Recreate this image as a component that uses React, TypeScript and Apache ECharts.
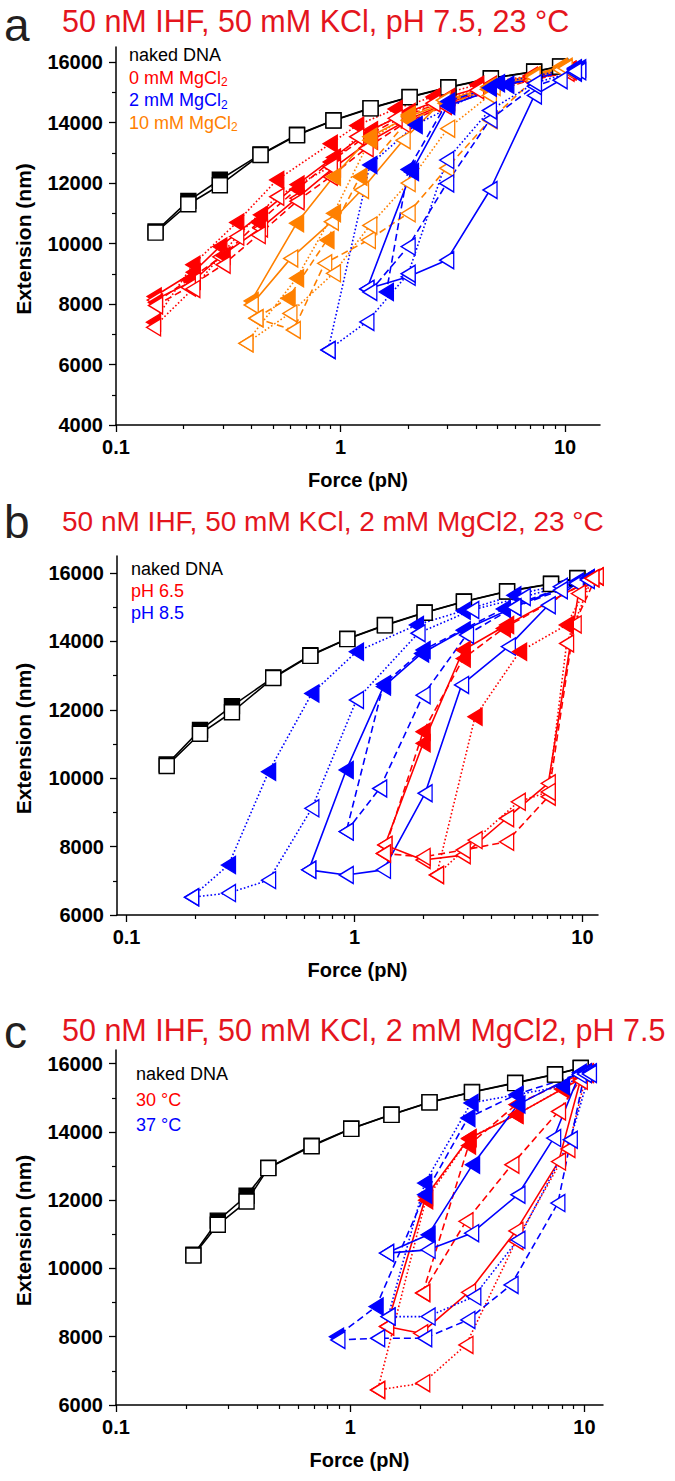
import React, { useEffect, useRef } from "react";
import * as echarts from "echarts";

// ---------- tick values ----------
const xMajorTicks = [0.1, 1, 10];
const xMinorTicks = [0.2, 0.3, 0.4, 0.5, 0.6, 0.7, 0.8, 0.9, 2, 3, 4, 5, 6, 7, 8, 9];
const yMajorA = [4000, 6000, 8000, 10000, 12000, 14000, 16000];
const yMinorA = [5000, 7000, 9000, 11000, 13000, 15000];
const yMajorBC = [6000, 8000, 10000, 12000, 14000, 16000];
const yMinorBC = [7000, 9000, 11000, 13000, 15000];

// ---------- titles / legends ----------
const panelLetters = ["a", "b", "c"];
const panelTitles = [
  "50 nM IHF, 50 mM KCl, pH 7.5, 23 °C",
  "50 nM IHF, 50 mM KCl, 2 mM MgCl2, 23 °C",
  "50 nM IHF, 50 mM KCl, 2 mM MgCl2, pH 7.5",
];
const legendB = ["naked DNA", "pH 6.5", "pH 8.5"];
const legendC = ["naked DNA", "30 °C", "37 °C"];

// ---------- naked DNA (panels a, b) ----------
const nakedForceAB = [0.15, 0.21, 0.29, 0.44, 0.64, 0.93, 1.36, 2.03, 3.02, 4.67, 7.28, 9.5];
const nakedStretchAB = [10400, 11410, 12110, 12950, 13600, 14080, 14480, 14850, 15170, 15470, 15690, 15860];
const nakedReleaseAB = [10360, 11300, 11930, 12930, 13580, 14070, 14470, 14840, 15160, 15460, 15680, 15850];
// ---------- naked DNA (panel c) ----------
const nakedForceC = [0.214, 0.272, 0.361, 0.447, 0.684, 1.01, 1.5, 2.18, 3.31, 5.06, 7.49, 9.64];
const nakedStretchC = [10400, 11400, 12130, 12950, 13600, 14100, 14510, 14870, 15170, 15440, 15690, 15880];
const nakedReleaseC = [10380, 11280, 11960, 12940, 13580, 14090, 14500, 14865, 15160, 15430, 15680, 15870];

// ---------- panel a : 0 mM MgCl2 (red) ----------
const aRedSolidUp = [[0.148, 8130], [0.221, 8770], [0.29, 9560], [0.44, 10500], [0.64, 11500], [0.93, 12500], [1.36, 13400], [2.0, 14100], [3.0, 14650], [4.6, 15100], [7.2, 15450], [10.4, 15700]];
const aRedSolidDown = [[10.4, 15750], [7.2, 15550], [4.6, 15250], [3.0, 14850], [2.0, 14350], [1.36, 13750], [0.93, 12850], [0.64, 11950], [0.44, 10950], [0.29, 9900], [0.221, 9050], [0.148, 8250]];
const aRedDashUp = [[0.15, 7950], [0.21, 8550], [0.3, 9300], [0.43, 10280], [0.64, 11400], [0.9, 12210], [1.3, 13150], [1.9, 13950], [2.9, 14550], [4.5, 15000], [7.0, 15400], [10.2, 15650]];
const aRedDashDown = [[10.2, 15700], [7.0, 15500], [4.5, 15150], [2.9, 14700], [1.9, 14200], [1.3, 13550], [0.9, 12700], [0.64, 11800], [0.43, 10700], [0.3, 9600], [0.21, 8800], [0.15, 8050]];
const aRedDotUp = [[0.147, 7230], [0.22, 8500], [0.345, 10230], [0.52, 11550], [0.9, 12540], [1.18, 13530], [1.75, 14140], [2.58, 14640], [4.04, 15070], [7.0, 15400], [10.4, 15700]];
const aRedDotDown = [[10.4, 15750], [7.0, 15550], [4.04, 15250], [2.58, 14850], [1.75, 14450], [1.18, 13900], [0.9, 13300], [0.52, 12100], [0.345, 10700], [0.22, 9300], [0.147, 7400]];
// ---------- panel a : 10 mM MgCl2 (orange) ----------
const aOrSolidUp = [[0.4, 7970], [0.6, 9510], [0.91, 10720], [1.24, 11770], [1.9, 13420], [2.87, 14740], [4.78, 15180], [7.2, 15520], [9.5, 15790]];
const aOrSolidDown = [[9.5, 15850], [7.2, 15570], [4.52, 15180], [2.92, 14640], [2.0, 14190], [1.35, 13530], [0.93, 12210], [0.637, 10670], [0.4, 8100]];
const aOrDashUp = [[0.42, 7530], [0.616, 7140], [0.85, 9345], [1.33, 10115], [2.0, 11000], [2.97, 12490], [4.63, 14080], [7.2, 15400], [9.5, 15750]];
const aOrDashDown = [[9.5, 15800], [4.5, 15100], [2.0, 14080], [1.22, 12210], [0.87, 10115], [0.584, 8190], [0.42, 7530]];
const aOrDotUp = [[0.379, 6700], [0.595, 7690], [0.93, 9015], [1.35, 10600], [2.0, 12000], [3.0, 13800], [4.6, 14900], [7.2, 15500], [10.0, 15800]];
const aOrDotDown = [[10.0, 15850], [4.6, 15200], [2.0, 14250], [1.35, 13420], [0.93, 11000], [0.637, 8850], [0.379, 6700]];
// ---------- panel a : 2 mM MgCl2 (blue) ----------
const aBlSolidUp = [[1.31, 8500], [2.0, 8900], [2.97, 9450], [4.63, 11770], [7.3, 14900], [9.5, 15400], [11.5, 15700]];
const aBlSolidDown = [[11.5, 15800], [5.5, 15250], [3.0, 14550], [2.07, 12370], [1.31, 8500]];
const aBlDashUp = [[1.35, 8400], [2.0, 9900], [2.97, 11990], [4.63, 14100], [7.3, 15200], [11.0, 15650]];
const aBlDashDown = [[11.0, 15750], [4.6, 15150], [3.0, 14700], [2.0, 12450], [1.6, 8400]];
const aBlDotUp = [[0.88, 6480], [1.31, 7410], [2.0, 9000], [2.97, 12760], [4.6, 14400], [7.3, 15300], [11.0, 15700]];
const aBlDotDown = [[11.0, 15800], [5.0, 15300], [2.15, 13920], [1.35, 12600], [0.88, 6480]];

// ---------- panel b : pH 8.5 (blue) ----------
const bBlDotUp = [[0.193, 6520], [0.28, 6640], [0.42, 7020], [0.65, 9120], [1.02, 12290], [1.9, 14240], [3.27, 14920], [5.5, 15300], [8.0, 15600], [10.5, 15850]];
const bBlDotDown = [[10.5, 15850], [5.0, 15350], [3.0, 14900], [1.87, 14480], [1.02, 13700], [0.65, 12480], [0.42, 10190], [0.28, 7460], [0.193, 6520]];
const bBlSolidUp = [[0.63, 7320], [0.92, 7170], [1.34, 7320], [2.04, 9560], [2.95, 12730], [4.73, 13850], [7.08, 15060], [9.4, 15700]];
const bBlSolidDown = [[9.4, 15750], [5.0, 15000], [3.0, 14330], [1.97, 13650], [1.34, 12680], [0.92, 10240], [0.63, 7320]];
const bBlDashUp = [[0.92, 8440], [1.29, 9700], [2.0, 12430], [3.1, 14190], [5.0, 15000], [8.0, 15500], [10.5, 15800]];
const bBlDashDown = [[10.5, 15850], [4.5, 14950], [2.0, 13750], [1.34, 12750], [0.92, 8440]];
// ---------- panel b : pH 6.5 (red) ----------
const bRedSolidUp = [[1.36, 8050], [2.0, 7610], [3.0, 7750], [4.65, 8830], [7.08, 9850], [9.6, 15400], [11.5, 15900]];
const bRedSolidDown = [[11.5, 15900], [4.65, 14480], [3.0, 13750], [2.0, 11020], [1.36, 8050]];
const bRedDashUp = [[1.34, 7800], [2.0, 7700], [3.0, 7900], [4.65, 8140], [7.08, 9460], [9.2, 14500], [11.5, 15900]];
const bRedDashDown = [[11.5, 15900], [4.5, 14380], [3.0, 13500], [2.0, 11360], [1.34, 7800]];
const bRedDotUp = [[2.29, 7170], [3.38, 8190], [5.23, 9310], [7.08, 9600], [8.52, 13940], [11.0, 15850]];
const bRedDotDown = [[11.0, 15850], [8.5, 14480], [5.3, 13700], [3.38, 11800], [2.29, 7170]];

// ---------- panel c : 30 °C (red) ----------
const cRedSolidUp = [[1.43, 8300], [2.0, 8100], [3.2, 9300], [5.1, 11100], [7.75, 13130], [9.6, 15500]];
const cRedSolidDown = [[9.6, 15550], [5.1, 14500], [3.2, 13800], [2.1, 12100], [1.43, 8300]];
const cRedDashUp = [[2.04, 9280], [3.12, 11380], [4.9, 13040], [7.75, 14600], [10.0, 15700]];
const cRedDashDown = [[10.0, 15750], [5.1, 14800], [3.2, 13600], [2.04, 9280]];
const cRedDotUp = [[1.31, 6440], [2.04, 6640], [3.12, 7760], [5.1, 10800], [8.5, 13500], [10.2, 15700]];
const cRedDotDown = [[10.2, 15750], [8.0, 15250], [5.1, 14500], [3.22, 13820], [2.1, 12000], [1.31, 6440]];
// ---------- panel c : 37 °C (blue) ----------
const cBlSolidUp = [[1.43, 10450], [2.15, 10545], [3.3, 11035], [5.2, 12160], [7.39, 13820], [9.5, 15680]];
const cBlSolidDown = [[9.5, 15730], [5.2, 14800], [3.33, 13040], [2.15, 10985], [1.43, 10450]];
const cBlDashUp = [[0.886, 7906], [1.31, 7956], [2.08, 7956], [3.18, 8493], [4.86, 9519], [7.7, 11915], [10.0, 15700]];
const cBlDashDown = [[10.0, 15750], [5.1, 15091], [3.18, 14408], [2.08, 12158], [1.29, 8883], [0.874, 8003]];
const cBlDotUp = [[1.45, 8590], [2.15, 8590], [3.37, 9176], [5.2, 10839], [8.7, 13771], [10.5, 15700]];
const cBlDotDown = [[10.5, 15750], [8.06, 15335], [3.28, 14848], [2.08, 12501], [1.45, 8590]];

// ---------- styling ----------
const RED = "#ff0000";
const BLUE = "#0000ff";
const ORANGE = "#ff8000";
const TITLE_RED = "#e4151d";
const FONT = "'Liberation Sans', Arial, sans-serif";
const NARROW = "'Liberation Sans Narrow', 'Arial Narrow', 'Liberation Sans', sans-serif";

const DASH: Record<string, any> = { solid: "solid", dash: [7, 4], dot: [1.6, 2.2] };

type Loop = { color: string; dash: string; up: number[][]; down: number[][] };

const loopsA: Loop[] = [
  { color: RED, dash: "solid", up: aRedSolidUp, down: aRedSolidDown },
  { color: RED, dash: "dash", up: aRedDashUp, down: aRedDashDown },
  { color: RED, dash: "dot", up: aRedDotUp, down: aRedDotDown },
  { color: ORANGE, dash: "solid", up: aOrSolidUp, down: aOrSolidDown },
  { color: ORANGE, dash: "dash", up: aOrDashUp, down: aOrDashDown },
  { color: ORANGE, dash: "dot", up: aOrDotUp, down: aOrDotDown },
  { color: BLUE, dash: "solid", up: aBlSolidUp, down: aBlSolidDown },
  { color: BLUE, dash: "dash", up: aBlDashUp, down: aBlDashDown },
  { color: BLUE, dash: "dot", up: aBlDotUp, down: aBlDotDown },
];
const loopsB: Loop[] = [
  { color: BLUE, dash: "dot", up: bBlDotUp, down: bBlDotDown },
  { color: BLUE, dash: "solid", up: bBlSolidUp, down: bBlSolidDown },
  { color: BLUE, dash: "dash", up: bBlDashUp, down: bBlDashDown },
  { color: RED, dash: "solid", up: bRedSolidUp, down: bRedSolidDown },
  { color: RED, dash: "dash", up: bRedDashUp, down: bRedDashDown },
  { color: RED, dash: "dot", up: bRedDotUp, down: bRedDotDown },
];
const loopsC: Loop[] = [
  { color: RED, dash: "solid", up: cRedSolidUp, down: cRedSolidDown },
  { color: RED, dash: "dash", up: cRedDashUp, down: cRedDashDown },
  { color: RED, dash: "dot", up: cRedDotUp, down: cRedDotDown },
  { color: BLUE, dash: "solid", up: cBlSolidUp, down: cBlSolidDown },
  { color: BLUE, dash: "dash", up: cBlDashUp, down: cBlDashDown },
  { color: BLUE, dash: "dot", up: cBlDotUp, down: cBlDotDown },
];

// grid geometry (px) and axis ranges
const grids = [
  { left: 116, top: 47, width: 484, height: 378, xr: [0.1, 14.3], yr: [4000, 16500], yMaj: yMajorA, yMin: yMinorA },
  { left: 117, top: 556, width: 481, height: 359, xr: [0.0908, 11.7], yr: [6000, 16500], yMaj: yMajorBC, yMin: yMinorBC },
  { left: 116, top: 1050, width: 487, height: 355, xr: [0.1, 12], yr: [6000, 16400], yMaj: yMajorBC, yMin: yMinorBC },
];

function lineSeries(gi: number, data: number[][], color: string, dash: string, filled: boolean, tri: boolean) {
  return {
    type: "line",
    xAxisIndex: gi * 2,
    yAxisIndex: gi * 2,
    data,
    symbol: tri ? "triangle" : "rect",
    symbolRotate: tri ? 90 : 0,
    symbolSize: tri ? [17, 14] : 15,
    showSymbol: true,
    showAllSymbol: true,
    animation: false,
    silent: true,
    lineStyle: { color, width: 1.6, type: DASH[dash] },
    itemStyle: { color: filled ? color : "#ffffff", borderColor: color, borderWidth: 1.4 },
    emphasis: { disabled: true },
  };
}

function nakedSeries(gi: number, f: number[], stretch: number[], release: number[]) {
  const s = f.map((v, i) => [v, stretch[i]]);
  const r = f.map((v, i) => [v, release[i]]);
  return [lineSeries(gi, s, "#000000", "solid", true, false), lineSeries(gi, r, "#000000", "solid", false, false)];
}

function App() {
  const ref = useRef<HTMLDivElement>(null);
  useEffect(() => {
    if (!ref.current) return;
    const chart = echarts.init(ref.current, null, { renderer: "svg" });

    const xAxis: any[] = [];
    const yAxis: any[] = [];
    const gridOpt: any[] = [];
    grids.forEach((g, i) => {
      gridOpt.push({ left: g.left, top: g.top, width: g.width, height: g.height, containLabel: false });
      const common = { type: "log", logBase: 10, gridIndex: i, min: g.xr[0], max: g.xr[1], position: "bottom", splitLine: { show: false } };
      xAxis.push({
        ...common,
        axisLine: { show: true, onZero: false, lineStyle: { color: "#000", width: 1.5 } },
        axisTick: { show: true, inside: false, length: 7, lineStyle: { color: "#000", width: 1.3 }, customValues: xMajorTicks },
        axisLabel: { show: true, customValues: xMajorTicks, margin: 12, fontSize: 20, fontWeight: "bold", fontFamily: FONT, color: "#000", formatter: (v: number) => String(v) },
      });
      xAxis.push({
        ...common,
        axisLine: { show: false },
        axisLabel: { show: false },
        axisTick: { show: true, inside: false, length: 4, lineStyle: { color: "#000", width: 1.2 }, customValues: xMinorTicks },
      });
      const ycommon = { type: "value", gridIndex: i, min: g.yr[0], max: g.yr[1], interval: 1000, position: "left", splitLine: { show: false } };
      yAxis.push({
        ...ycommon,
        axisLine: { show: true, onZero: false, lineStyle: { color: "#000", width: 1.5 } },
        axisTick: { show: true, inside: false, length: 7, lineStyle: { color: "#000", width: 1.3 }, customValues: g.yMaj },
        axisLabel: { show: true, customValues: g.yMaj, margin: 13, fontSize: 20, fontWeight: "bold", fontFamily: FONT, color: "#000", formatter: (v: number) => String(v) },
      });
      yAxis.push({
        ...ycommon,
        axisLine: { show: false },
        axisLabel: { show: false },
        axisTick: { show: true, inside: false, length: 4, lineStyle: { color: "#000", width: 1.2 }, customValues: g.yMin },
      });
    });

    const series: any[] = [];
    series.push(...nakedSeries(0, nakedForceAB, nakedStretchAB, nakedReleaseAB));
    [loopsA, loopsB, loopsC].forEach((loops, gi) => {
      if (gi === 1) series.push(...nakedSeries(1, nakedForceAB, nakedStretchAB, nakedReleaseAB));
      if (gi === 2) series.push(...nakedSeries(2, nakedForceC, nakedStretchC, nakedReleaseC));
      loops.forEach((l) => {
        series.push(lineSeries(gi, l.down, l.color, l.dash, true, true));
        series.push(lineSeries(gi, l.up, l.color, l.dash, false, true));
      });
    });

    const graphic: any[] = [];
    const titleY = [21, 521, 1030];
    const titleSize = [30.5, 28, 30.5];
    const letterY = [25, 522, 1032];
    panelLetters.forEach((t, i) => {
      graphic.push({ type: "text", x: 4, y: letterY[i], style: { text: t, font: `46px ${FONT}`, fill: "#231f20", align: "left", verticalAlign: "middle" } });
      graphic.push({ type: "text", x: 62, y: titleY[i], style: { text: panelTitles[i], font: `${titleSize[i]}px ${NARROW}`, fill: TITLE_RED, align: "left", verticalAlign: "middle" } });
    });
    // axis names
    grids.forEach((g) => {
      graphic.push({ type: "text", x: 23, y: g.top + g.height / 2 + 3, rotation: Math.PI / 2, style: { text: "Extension (nm)", font: `bold 21px ${FONT}`, fill: "#000", align: "center", verticalAlign: "middle" } });
      graphic.push({ type: "text", x: g.left + g.width / 2, y: g.top + g.height + 55, style: { text: "Force (pN)", font: `bold 20px ${FONT}`, fill: "#000", align: "center", verticalAlign: "middle" } });
    });
    // legend a
    const legA = [
      { t: "naked DNA", sub: "", c: "#000" },
      { t: "0 mM MgCl", sub: "2", c: RED },
      { t: "2 mM MgCl", sub: "2", c: BLUE },
      { t: "10 mM MgCl", sub: "2", c: ORANGE },
    ];
    legA.forEach((l, i) => {
      graphic.push({
        type: "text", x: 129, y: 55 + i * 22.5,
        style: {
          text: l.sub ? `{m|${l.t}}{s|${l.sub}}` : `{m|${l.t}}`,
          rich: { m: { font: `18px ${FONT}`, fill: l.c }, s: { font: `12px ${FONT}`, fill: l.c, padding: [9, 0, 0, 0] } },
          fill: l.c, align: "left", verticalAlign: "middle",
        },
      });
    });
    const legColors = ["#000", RED, BLUE];
    legendB.forEach((t, i) => {
      graphic.push({ type: "text", x: 131, y: 569 + i * 22, style: { text: t, font: `18px ${FONT}`, fill: legColors[i], align: "left", verticalAlign: "middle" } });
    });
    legendC.forEach((t, i) => {
      graphic.push({ type: "text", x: 136, y: 1074 + i * 25.5, style: { text: t, font: `18px ${FONT}`, fill: legColors[i], align: "left", verticalAlign: "middle" } });
    });

    chart.setOption({
      animation: false,
      backgroundColor: "#ffffff",
      grid: gridOpt,
      xAxis,
      yAxis,
      series,
      graphic: { elements: graphic },
    });
    return () => chart.dispose();
  }, []);
  return <div ref={ref} style={{ position: "absolute", left: 0, top: 0, width: 675, height: 1481 }} />;
}

export default App;
